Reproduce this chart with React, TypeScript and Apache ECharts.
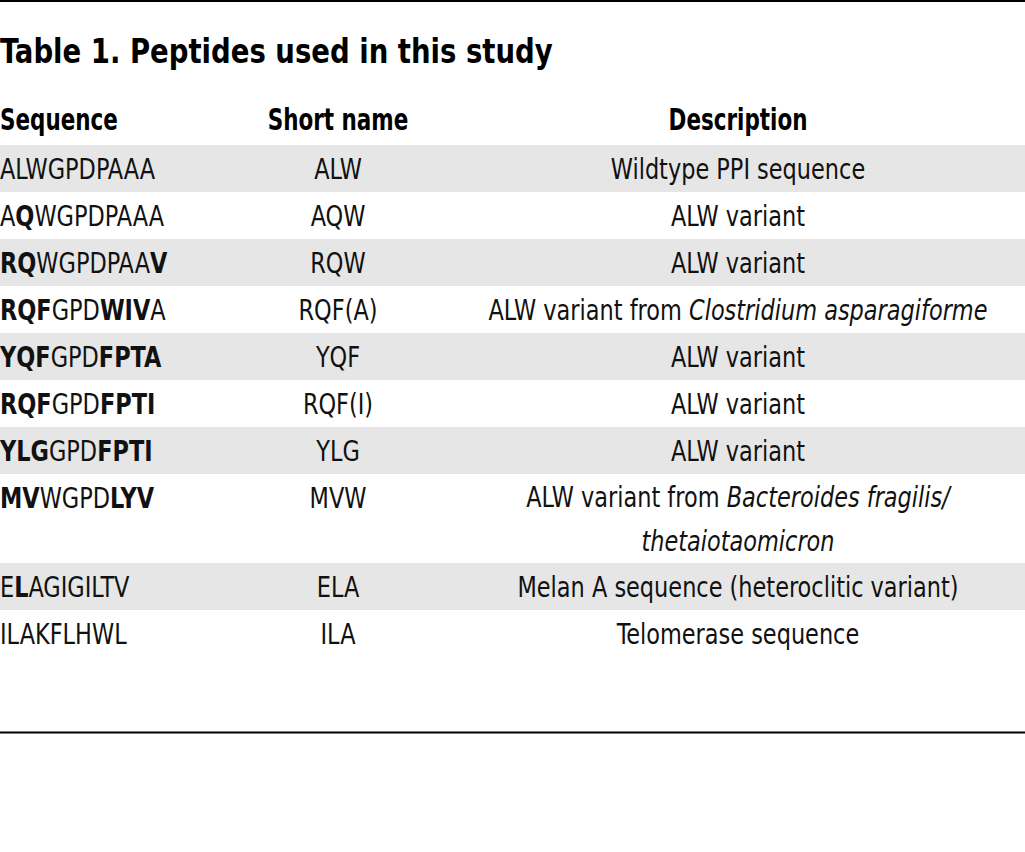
import React, { useEffect, useRef } from "react";
import * as echarts from "echarts";

// ---- Table content ----
const title = "Table 1. Peptides used in this study";
const headers = ["Sequence", "Short name", "Description"];
// *...* marks bold residues
const sequences = [
  "ALWGPDPAAA",
  "A*Q*WGPDPAAA",
  "*RQ*WGPDPAA*V*",
  "*RQF*GPD*WIV*A",
  "*YQF*GPD*FPTA*",
  "*RQF*GPD*FPTI*",
  "*YLG*GPD*FPTI*",
  "*MV*WGPD*LYV*",
  "E*L*AGIGILTV",
  "ILAKFLHWL",
];
const shortNames = ["ALW", "AQW", "RQW", "RQF(A)", "YQF", "RQF(I)", "YLG", "MVW", "ELA", "ILA"];
// _..._ marks italic text
const descriptions = [
  "Wildtype PPI sequence",
  "ALW variant",
  "ALW variant",
  "ALW variant from _Clostridium asparagiforme_",
  "ALW variant",
  "ALW variant",
  "ALW variant",
  "ALW variant from _Bacteroides fragilis/_\n_thetaiotaomicron_",
  "Melan A sequence (heteroclitic variant)",
  "Telomerase sequence",
];

const FONT = "'Liberation Sans Narrow', 'DejaVu Sans Condensed', 'Roboto', sans-serif";
const INK = "#111111";
const STRIPE = "#e6e6e6";

function toRich(s: string): string {
  return s.replace(/\*([^*]+)\*/g, "{b|$1}").replace(/_([^_]+)_/g, "{i|$1}");
}

export default function App() {
  const ref = useRef<HTMLDivElement>(null);

  useEffect(() => {
    if (!ref.current) return;
    const chart = echarts.init(ref.current, null, { renderer: "svg" });
    const W = 1025;
    const tableTop = 145;
    const rowH = 47;
    const extraLine = 42;
    const colSeqX = 0;
    const colShortX = 338;
    const colDescX = 738;
    const fs = 29;
    const sxTitle = 0.9;
    const sxHead = 0.77;
    const sxBody = 0.86;

    const rich = {
      b: { fontFamily: FONT, fontSize: fs, fontWeight: "bold" as const, fill: INK, lineHeight: 44 },
      i: { fontFamily: FONT, fontSize: fs, fontStyle: "italic" as const, fill: INK, lineHeight: 44 },
    };

    const els: any[] = [];
    // top rule
    els.push({ type: "rect", shape: { x: 0, y: 0, width: W, height: 2 }, style: { fill: "#000" } });
    // title
    els.push({
      type: "text",
      x: 0,
      y: 51,
      scaleX: sxTitle,
      style: {
        text: title,
        fontFamily: FONT,
        fontSize: 34,
        fontWeight: "bold",
        fill: "#000",
        align: "left",
        verticalAlign: "middle",
      },
    });
    // headers
    const headerY = 119;
    const headerX = [colSeqX, colShortX, colDescX];
    const headerAlign = ["left", "center", "center"];
    headers.forEach((h, k) => {
      els.push({
        type: "text",
        x: headerX[k],
        y: headerY,
        scaleX: sxHead,
        style: {
          text: h,
          fontFamily: FONT,
          fontSize: 31,
          fontWeight: "bold",
          fill: "#000",
          align: headerAlign[k],
          verticalAlign: "middle",
        },
      });
    });

    let y0 = tableTop;
    sequences.forEach((seq, i) => {
      const lines = descriptions[i].split("\n").length;
      const h = rowH + (lines - 1) * extraLine;
      if (i % 2 === 0) {
        els.push({ type: "rect", shape: { x: 0, y: y0, width: W, height: h }, style: { fill: STRIPE } });
      }
      const firstY = y0 + rowH / 2;
      els.push({
        type: "text",
        x: colSeqX,
        y: firstY,
        scaleX: sxBody,
        style: {
          text: toRich(seq),
          rich,
          fontFamily: FONT,
          fontSize: fs,
          fill: INK,
          align: "left",
          verticalAlign: "middle",
        },
      });
      els.push({
        type: "text",
        x: colShortX,
        y: firstY,
        scaleX: sxBody,
        style: {
          text: shortNames[i],
          fontFamily: FONT,
          fontSize: fs,
          fill: INK,
          align: "center",
          verticalAlign: "middle",
        },
      });
      els.push({
        type: "text",
        x: colDescX,
        y: y0 + h / 2,
        scaleX: sxBody,
        style: {
          text: toRich(descriptions[i]),
          rich,
          fontFamily: FONT,
          fontSize: fs,
          lineHeight: 44,
          fill: INK,
          align: "center",
          verticalAlign: "middle",
        },
      });
      y0 += h;
    });

    // bottom rule
    els.push({ type: "rect", shape: { x: 0, y: 731.5, width: W, height: 2 }, style: { fill: "#000" } });

    chart.setOption({
      animation: false,
      backgroundColor: "#ffffff",
      graphic: { elements: els },
    });

    return () => chart.dispose();
  }, []);

  return (
    <div
      ref={ref}
      style={{ position: "absolute", left: 0, top: 0, width: 1025, height: 852, background: "#fff" }}
    />
  );
}
